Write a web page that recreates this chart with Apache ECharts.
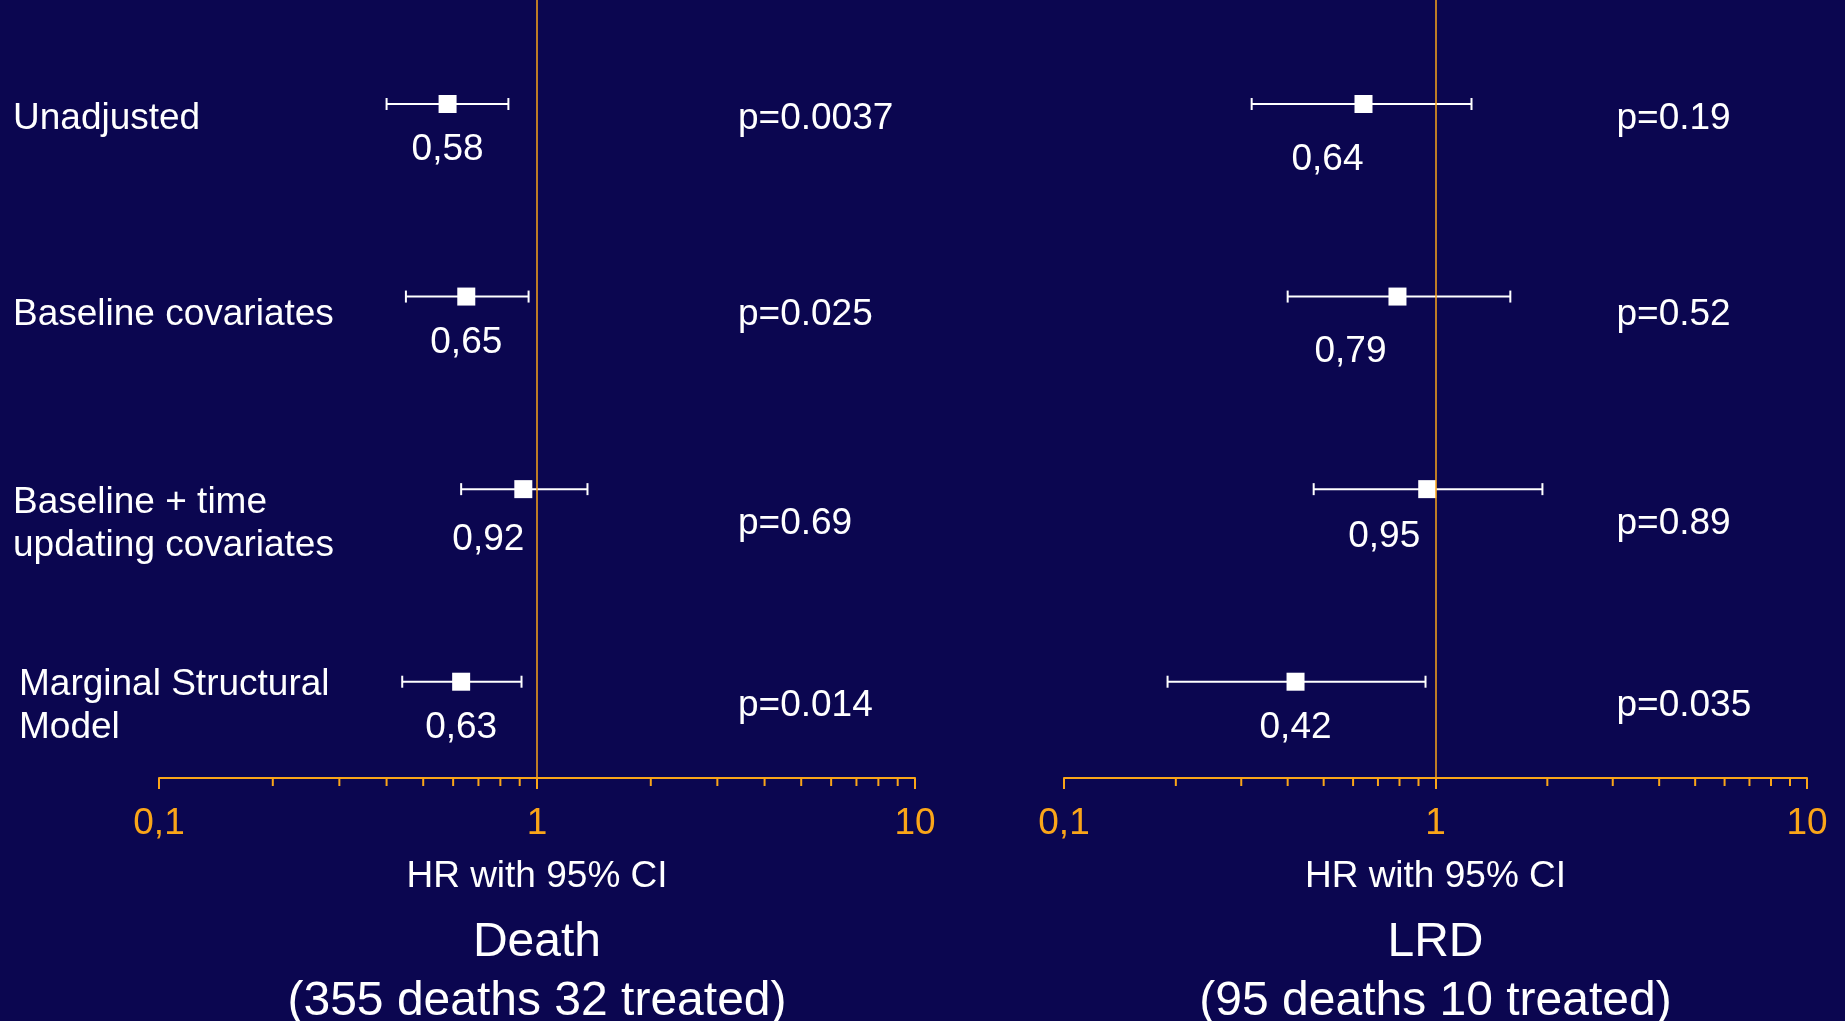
<!DOCTYPE html>
<html>
<head>
<meta charset="utf-8">
<script src="https://cdn.jsdelivr.net/npm/echarts@6/dist/echarts.min.js"></script>
<style>
  html, body { margin: 0; padding: 0; background: #0b0650; }
  #chart { width: 1845px; height: 1021px; }
</style>
</head>
<body>
<div id="chart"></div>
<script>
// ---------------- DATA ----------------
const categories = ['Unadjusted', 'Baseline covariates', 'Baseline + time\nupdating covariates', 'Marginal Structural\nModel'];

const deathHR   = [0.58, 0.65, 0.92, 0.63];
const deathLow  = [0.40, 0.45, 0.63, 0.44];
const deathHigh = [0.84, 0.95, 1.36, 0.91];
const deathP    = ['p=0.0037', 'p=0.025', 'p=0.69', 'p=0.014'];

const lrdHR   = [0.64, 0.79, 0.95, 0.42];
const lrdLow  = [0.32, 0.40, 0.47, 0.19];
const lrdHigh = [1.25, 1.59, 1.94, 0.94];
const lrdP    = ['p=0.19', 'p=0.52', 'p=0.89', 'p=0.035'];

const panelTitles = ['Death\n(355 deaths 32 treated)', 'LRD\n(95 deaths 10 treated)'];
const axisName = 'HR with 95% CI';
const xMin = 0.1, xMax = 10, refValue = 1;
const minorTickValues = [0.2, 0.3, 0.4, 0.5, 0.6, 0.7, 0.8, 0.9, 2, 3, 4, 5, 6, 7, 8, 9];

// ---------------- STYLE / LAYOUT ----------------
const BG = '#0b0650';
const ORANGE = '#faa519';
const WHITE = '#ffffff';
const FONT = '"Liberation Sans", Arial, Helvetica, sans-serif';
const FS = 37;

const grids = [
  { left: 159, width: 756, top: 0, height: 778 },
  { left: 1064, width: 743, top: 0, height: 778 }
];
const yMin = -0.54, yMax = 3.5;

const textRowDy = [15, 18, 35, 24.5];
const catDx = [-146, -146, -146, -140];
const pDx = [201, 181];
const hrLabelOffsets = [
  [[0, 46], [0, 46], [-35, 51], [0, 46]],
  [[-36, 56], [-47, 55], [-43, 48], [0, 46]]
];

const fmtNum = v => String(+(+v).toPrecision(4)).replace('.', ',');

const panels = [
  { hr: deathHR, lo: deathLow, hi: deathHigh, p: deathP },
  { hr: lrdHR, lo: lrdLow, hi: lrdHigh, p: lrdP }
];

const xAxes = [], yAxes = [], series = [], titles = [];

panels.forEach((pn, i) => {
  xAxes.push({
    type: 'log', logBase: 10, gridIndex: i, min: xMin, max: xMax, position: 'bottom',
    axisLine: { show: true, onZero: false, lineStyle: { color: ORANGE, width: 2 } },
    axisTick: { show: true, length: 11, lineStyle: { color: ORANGE, width: 2 } },
    minorTick: { show: false },
    splitLine: { show: false },
    axisLabel: { color: ORANGE, fontSize: FS, fontFamily: FONT, margin: 27, formatter: fmtNum },
    name: axisName, nameLocation: 'middle', nameGap: 80,
    nameTextStyle: { color: WHITE, fontSize: FS, fontFamily: FONT }
  });
  yAxes.push({ type: 'value', gridIndex: i, min: yMin, max: yMax, inverse: true, show: false });

  // confidence intervals
  series.push({
    type: 'custom', xAxisIndex: i, yAxisIndex: i, clip: false, z: 3, silent: true,
    data: pn.hr.map((_, k) => [pn.lo[k], pn.hi[k], k]),
    encode: { x: [0, 1], y: 2 },
    renderItem: (params, api) => {
      const a = api.coord([api.value(0), api.value(2)]);
      const b = api.coord([api.value(1), api.value(2)]);
      const st = { stroke: WHITE, lineWidth: 2 };
      const h = 6;
      return { type: 'group', children: [
        { type: 'line', shape: { x1: a[0], y1: a[1], x2: b[0], y2: b[1] }, style: st },
        { type: 'line', shape: { x1: a[0], y1: a[1] - h, x2: a[0], y2: a[1] + h }, style: st },
        { type: 'line', shape: { x1: b[0], y1: b[1] - h, x2: b[0], y2: b[1] + h }, style: st }
      ]};
    }
  });

  // point estimates + HR labels + reference line
  series.push({
    type: 'scatter', xAxisIndex: i, yAxisIndex: i, clip: false, z: 4, silent: true,
    symbol: 'rect', symbolSize: 18,
    itemStyle: { color: WHITE, opacity: 1 },
    data: pn.hr.map((v, k) => ({
      value: [v, k],
      label: { offset: hrLabelOffsets[i][k] }
    })),
    label: {
      show: true, position: 'inside', color: WHITE, fontSize: FS, fontFamily: FONT,
      align: 'center', verticalAlign: 'middle',
      formatter: p => fmtNum(p.value[0])
    },
    markLine: {
      silent: true, symbol: ['none', 'none'], animation: false,
      label: { show: false },
      lineStyle: { color: ORANGE, width: 1.5, type: 'solid', opacity: 1 },
      data: [{ xAxis: refValue }]
    }
  });

  // p-values
  series.push({
    type: 'scatter', xAxisIndex: i, yAxisIndex: i, clip: false, z: 5, silent: true,
    symbol: 'circle', symbolSize: 1, itemStyle: { color: 'rgba(0,0,0,0)', opacity: 1 },
    data: pn.p.map((t, k) => ({ value: [refValue, k], name: t, label: { offset: [pDx[i], textRowDy[k]] } })),
    label: {
      show: true, position: 'inside', color: WHITE, fontSize: FS, fontFamily: FONT,
      align: 'left', verticalAlign: 'middle', formatter: p => p.name
    }
  });

  // minor ticks
  series.push({
    type: 'custom', xAxisIndex: i, yAxisIndex: i, clip: false, z: 2, silent: true,
    data: minorTickValues.map(v => [v, 0]),
    encode: { x: 0, y: 1 },
    renderItem: (params, api) => {
      const x = api.coord([api.value(0), 0])[0];
      const cs = params.coordSys;
      const yb = cs.y + cs.height;
      return { type: 'line', shape: { x1: x, y1: yb, x2: x, y2: yb + 8 },
        style: { stroke: ORANGE, lineWidth: 2 } };
    }
  });

  titles.push({
    text: panelTitles[i],
    left: grids[i].left + grids[i].width / 2, textAlign: 'center',
    top: 913, padding: 0,
    textStyle: { color: WHITE, fontSize: 48, fontWeight: 'normal', fontFamily: FONT, lineHeight: 59 }
  });
});

// category labels (left panel)
series.push({
  type: 'scatter', xAxisIndex: 0, yAxisIndex: 0, clip: false, z: 5, silent: true,
  symbol: 'circle', symbolSize: 1, itemStyle: { color: 'rgba(0,0,0,0)', opacity: 1 },
  data: categories.map((c, k) => ({ value: [xMin, k], name: c, label: { offset: [catDx[k], textRowDy[k]] } })),
  label: {
    show: true, position: 'inside', color: WHITE, fontSize: FS, fontFamily: FONT,
    align: 'left', verticalAlign: 'middle', lineHeight: 43, formatter: p => p.name
  }
});

const chart = echarts.init(document.getElementById('chart'), null, { renderer: 'canvas' });
chart.setOption({
  backgroundColor: BG,
  animation: false,
  title: titles,
  grid: grids.map(g => Object.assign({ containLabel: false, outerBoundsMode: 'none' }, g)),
  xAxis: xAxes,
  yAxis: yAxes,
  series: series
});
</script>
</body>
</html>
